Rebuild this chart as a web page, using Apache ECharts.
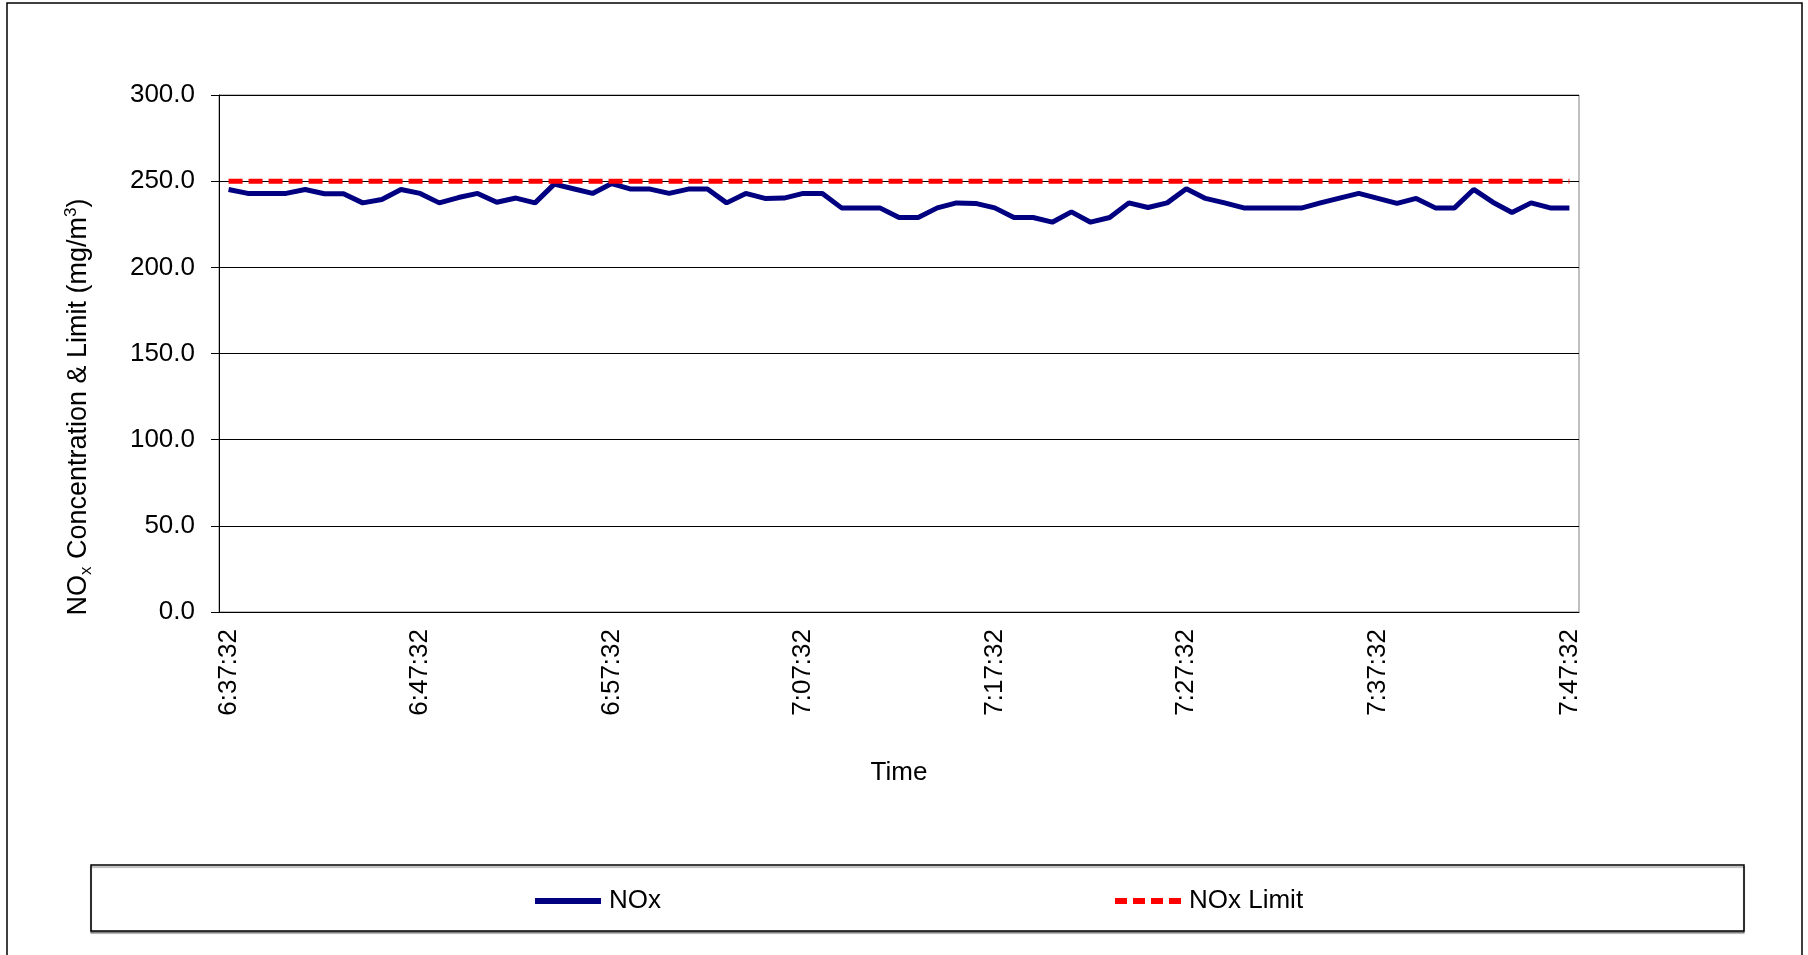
<!DOCTYPE html>
<html>
<head>
<meta charset="utf-8">
<title>NOx</title>
<script src="https://cdn.jsdelivr.net/npm/echarts@6/dist/echarts.min.js"></script>
<style>
  html, body { margin: 0; padding: 0; background: #fff; }
  #chart { width: 1808px; height: 955px; }
</style>
</head>
<body>
<div id="chart"></div>
<script>
var times = [
  '6:37:32', '6:38:32', '6:39:32', '6:40:32', '6:41:32', '6:42:32', '6:43:32', '6:44:32', '6:45:32', '6:46:32',
  '6:47:32', '6:48:32', '6:49:32', '6:50:32', '6:51:32', '6:52:32', '6:53:32', '6:54:32', '6:55:32', '6:56:32',
  '6:57:32', '6:58:32', '6:59:32', '7:00:32', '7:01:32', '7:02:32', '7:03:32', '7:04:32', '7:05:32', '7:06:32',
  '7:07:32', '7:08:32', '7:09:32', '7:10:32', '7:11:32', '7:12:32', '7:13:32', '7:14:32', '7:15:32', '7:16:32',
  '7:17:32', '7:18:32', '7:19:32', '7:20:32', '7:21:32', '7:22:32', '7:23:32', '7:24:32', '7:25:32', '7:26:32',
  '7:27:32', '7:28:32', '7:29:32', '7:30:32', '7:31:32', '7:32:32', '7:33:32', '7:34:32', '7:35:32', '7:36:32',
  '7:37:32', '7:38:32', '7:39:32', '7:40:32', '7:41:32', '7:42:32', '7:43:32', '7:44:32', '7:45:32', '7:46:32',
  '7:47:32'
];

var nox = [
  245.2, 242.9, 242.9, 242.9, 245.2, 242.7, 242.7, 237.4, 239.4, 245.2,
  242.9, 237.4, 240.5, 242.9, 237.8, 240.2, 237.4, 248.3, 245.6, 242.9,
  248.6, 245.4, 245.4, 242.9, 245.4, 245.4, 237.4, 242.9, 240.0, 240.2,
  242.9, 242.9, 234.5, 234.5, 234.5, 228.9, 228.9, 234.5, 237.4, 237.1,
  234.5, 228.9, 228.9, 226.2, 232.2, 226.2, 228.9, 237.4, 234.7, 237.4,
  245.6, 240.0, 237.4, 234.5, 234.5, 234.4, 234.4, 237.4, 240.2, 242.9,
  240.0, 237.1, 240.0, 234.5, 234.5, 245.2, 237.8, 231.8, 237.4, 234.5,
  234.5
];

var noxLimit = [
  250, 250, 250, 250, 250, 250, 250, 250, 250, 250,
  250, 250, 250, 250, 250, 250, 250, 250, 250, 250,
  250, 250, 250, 250, 250, 250, 250, 250, 250, 250,
  250, 250, 250, 250, 250, 250, 250, 250, 250, 250,
  250, 250, 250, 250, 250, 250, 250, 250, 250, 250,
  250, 250, 250, 250, 250, 250, 250, 250, 250, 250,
  250, 250, 250, 250, 250, 250, 250, 250, 250, 250,
  250
];

var font = 'Liberation Sans, Arial, sans-serif';

// legend swatches: solid bar and 4 dashes, no symbol in the middle
var solidIcon = 'path://M0,0h66v6h-66z';
var dashIcon = 'path://M0,0h12v6h-12z M18,0h12v6h-12z M36,0h12v6h-12z M54,0h12v6h-12z';

var chart = echarts.init(document.getElementById('chart'), null, { renderer: 'canvas' });

var option = {
  animation: false,
  backgroundColor: '#fff',
  textStyle: { fontFamily: font },
  grid: {
    left: 219,
    right: 229,
    top: 95,
    bottom: 343,
    show: true,
    borderColor: '#808080',
    borderWidth: 1
  },
  legend: {
    left: 530,
    top: 883,
    itemWidth: 72,
    itemHeight: 6,
    itemGap: 454,
    textStyle: { fontSize: 26, color: '#000', fontFamily: font },
    data: [
      { name: 'NOx', icon: solidIcon },
      { name: 'NOx Limit', icon: dashIcon }
    ]
  },
  xAxis: {
    type: 'category',
    data: times,
    boundaryGap: true,
    name: 'Time',
    nameLocation: 'middle',
    nameGap: 148,
    nameTextStyle: { fontSize: 26, color: '#000' },
    axisLine: { lineStyle: { color: '#000', width: 1 } },
    axisTick: { interval: 9, length: 8, lineStyle: { color: '#000' } },
    axisLabel: {
      interval: 9,
      rotate: 90,
      margin: 17,
      fontSize: 26,
      color: '#000'
    },
    splitLine: { show: false }
  },
  yAxis: {
    type: 'value',
    min: 0,
    max: 300,
    interval: 50,
    axisLine: { show: true, lineStyle: { color: '#000', width: 1 } },
    axisTick: { show: true, length: 8, lineStyle: { color: '#000' } },
    axisLabel: {
      margin: 24,
      fontSize: 26,
      color: '#000',
      formatter: function (v) { return v.toFixed(1); }
    },
    splitLine: { lineStyle: { color: '#000', width: 1 } }
  },
  series: [
    {
      name: 'NOx',
      type: 'line',
      data: nox,
      symbol: 'none',
      lineStyle: { color: '#000080', width: 5 },
      itemStyle: { color: '#000080' }
    },
    {
      name: 'NOx Limit',
      type: 'line',
      data: noxLimit,
      symbol: 'none',
      lineStyle: { color: '#ff0000', width: 5, type: [14, 6] },
      itemStyle: { color: '#ff0000' }
    }
  ],
  graphic: [
    // outer chart border
    {
      type: 'rect',
      shape: { x: 7, y: 3, width: 1795, height: 960 },
      style: { fill: 'none', stroke: '#000', lineWidth: 1.5 },
      silent: true
    },
    // legend box
    {
      type: 'rect',
      shape: { x: 91, y: 865, width: 1653, height: 66 },
      style: {
        fill: '#fff',
        stroke: '#000',
        lineWidth: 1.5,
        shadowColor: 'rgba(0,0,0,0.35)',
        shadowOffsetX: 0,
        shadowOffsetY: 2,
        shadowBlur: 1
      },
      z: -1,
      silent: true
    },
    // y axis title with sub/superscript
    {
      type: 'text',
      x: 79,
      y: 407,
      rotation: Math.PI / 2,
      style: {
        text: '{a|NO}{sub|x}{a| Concentration & Limit (mg/m}{sup|3}{a|)}',
        align: 'center',
        verticalAlign: 'middle',
        fill: '#000',
        rich: {
          a: { fontSize: 27, lineHeight: 32, fontFamily: font, fill: '#000' },
          sub: { fontSize: 17, lineHeight: 17, verticalAlign: 'bottom', fontFamily: font, fill: '#000' },
          sup: { fontSize: 17, lineHeight: 17, verticalAlign: 'top', fontFamily: font, fill: '#000' }
        }
      },
      silent: true
    }
  ]
};

chart.setOption(option);
</script>
</body>
</html>
